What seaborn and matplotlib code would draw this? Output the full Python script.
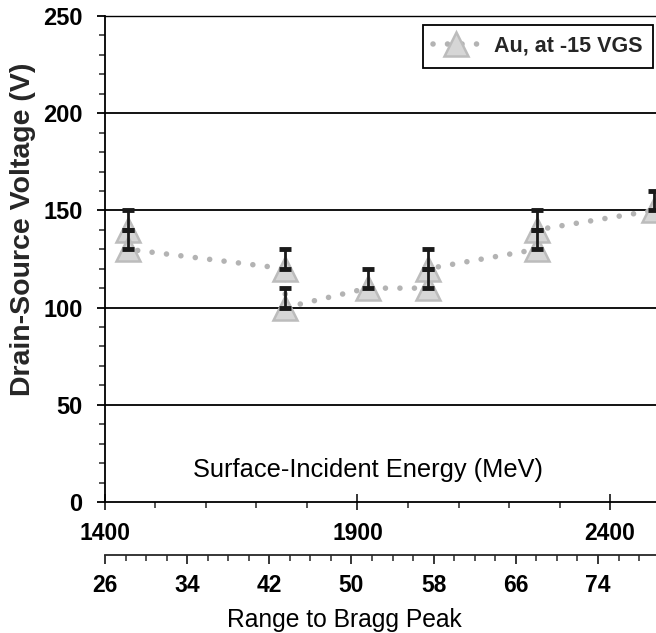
import numpy as np
import seaborn as sns
import matplotlib.pyplot as plt
from matplotlib.ticker import MultipleLocator

# --- data ---
energy_mev = [1446, 1446, 1757, 1757, 1920, 2039, 2039, 2255, 2255, 2487]
pass_v = [140, 130, 120, 100, 110, 110, 120, 130, 140, 150]
fail_v = [150, 140, 130, 110, 120, 120, 130, 140, 150, 160]
series_label = "Au, at -15 VGS"

# range-to-Bragg-peak scale vs. energy (linear)
range_at_1400 = 26.0
range_per_mev = 0.04917

y_ticks = [0, 50, 100, 150, 200, 250]
energy_ticks = [1400, 1900, 2400]
range_ticks = [26, 34, 42, 50, 58, 66, 74]

# --- style ---
sns.set_theme(style="ticks")
plt.rcParams['font.family'] = ['Liberation Sans', 'DejaVu Sans']
plt.rcParams['axes.linewidth'] = 1.3

fig = plt.figure(figsize=(6.56, 6.33), dpi=100)
ax = fig.add_axes([0.160, 0.207, 0.8469, 0.7677])

sns.lineplot(
    x=energy_mev, y=pass_v, sort=False, estimator=None, ax=ax,
    color='#b3b3b3', linewidth=4, marker='^', markersize=17,
    markerfacecolor='#d6d6d6', markeredgecolor='#bcbcbc', markeredgewidth=1.8,
    label=series_label, zorder=3,
)
# dotted line made of round dots
line = ax.lines[0]
line.set_dashes((0.01, 2.6))
line.set_dash_capstyle('round')

err_up = np.array(fail_v) - np.array(pass_v)
ax.errorbar(energy_mev, pass_v, yerr=[np.zeros_like(err_up), err_up],
            fmt='none', ecolor='#1a1a1a', elinewidth=2, capsize=4,
            capthick=3.5, zorder=4)

# --- axes ---
ax.set_xlim(1400, 2500)
ax.set_ylim(0, 250)
ax.set_yticks(y_ticks)
ax.yaxis.set_minor_locator(MultipleLocator(10))
ax.set_xticks(energy_ticks)
ax.xaxis.set_minor_locator(MultipleLocator(100))
ax.grid(False)
for y in y_ticks[1:-1]:
    ax.axhline(y, color='black', lw=1.3, zorder=1)

for s in ['left', 'bottom', 'top']:
    ax.spines[s].set_color('black')
ax.spines['right'].set_visible(False)
ax.spines['top'].set_linewidth(1.0)

ax.tick_params(axis='y', which='major', direction='out', length=6, width=1.3,
               pad=10, labelsize=17, colors='black')
ax.tick_params(axis='y', which='minor', direction='out', length=4, width=1.1)
ax.tick_params(axis='x', which='major', direction='inout', length=11, width=1.1,
               pad=9, labelsize=16.5, colors='black')
ax.tick_params(axis='x', which='minor', direction='out', length=4, width=1.1)
for lab in ax.get_xticklabels() + ax.get_yticklabels():
    lab.set_fontweight('bold')

ax.set_ylabel('Drain-Source Voltage (V)', fontsize=20.5, fontweight='bold')
ax.yaxis.set_label_coords(-0.124, 0.562)

ax.text(0.474, 0.066, 'Surface-Incident Energy (MeV)', transform=ax.transAxes,
        ha='center', va='center', fontsize=18.3, color='black')

# second bottom axis: range to Bragg peak
sec = ax.secondary_xaxis(
    -0.109,
    functions=(lambda e: range_at_1400 + (e - 1400) * range_per_mev,
               lambda r: 1400 + (r - range_at_1400) / range_per_mev))
sec.set_xticks(range_ticks)
sec.xaxis.set_minor_locator(MultipleLocator(2))
sec.spines['bottom'].set_linewidth(1.3)
sec.tick_params(which='major', direction='out', length=6.5, width=1.1,
                pad=7, labelsize=16.5, colors='black')
sec.tick_params(which='minor', direction='out', length=4, width=1.1)
for lab in sec.get_xticklabels():
    lab.set_fontweight('bold')
sec.set_xlabel('Range to Bragg Peak', fontsize=17.7, color='black')
sec.xaxis.set_label_coords(0.431, -0.219, transform=ax.transAxes)

leg = ax.legend(loc='upper right', bbox_to_anchor=(653 / 656, 608 / 633),
                bbox_transform=fig.transFigure, borderaxespad=0,
                fancybox=False, framealpha=1, edgecolor='black',
                prop={'weight': 'bold', 'size': 15.5}, borderpad=0.5,
                handlelength=2.1, handletextpad=0.7)
leg.get_frame().set_linewidth(1.3)

fig.savefig('out.png', dpi=100)
